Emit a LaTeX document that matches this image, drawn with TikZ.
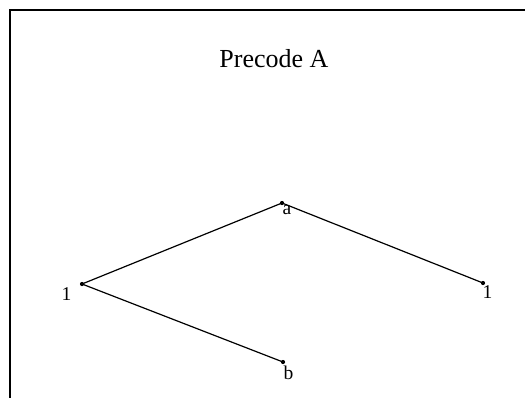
\documentclass[tikz,border=0pt]{standalone}
\usepackage{fontspec}
\setmainfont{Liberation Serif}
\usetikzlibrary{positioning}

\begin{document}
\begin{tikzpicture}[
  x=1pt, y=-1pt,
  dot/.style={circle, fill=black, inner sep=0pt, minimum size=4.2pt},
  lbl/.style={anchor=base, inner sep=0pt, font=\fontsize{19.5}{21}\selectfont},
  branch/.style={line width=1.2pt, black}
]
  \useasboundingbox (0,0) rectangle (525,397);
  \draw[line width=1.6pt] (10,410) -- (10,10) -- (540,10);

  \node[anchor=base, inner sep=0pt, font=\fontsize{26}{28}\selectfont] (title) at (274,67) {Precode A};

  \node[dot] (a) at (282,203) {};
  \node[dot] (l) at (82,284) {};
  \node[dot] (r) at (483,283) {};
  \node[dot] (b) at (283,362) {};

  \node[lbl] (la) at (287,214) {a};
  \node[lbl] (ll) at (66.5,300) {1};
  \node[lbl] (lr) at (487.5,298) {1};
  \node[lbl] (lb) at (288.5,379) {b};

  \draw[branch] (l.center) -- (a.center);
  \draw[branch] (a.center) -- (r.center);
  \draw[branch] (l.center) -- (b.center);
\end{tikzpicture}
\end{document}
